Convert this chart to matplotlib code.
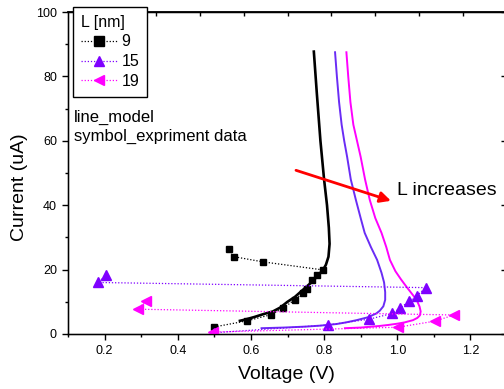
import numpy as np
import matplotlib
matplotlib.use('Agg')
import matplotlib.pyplot as plt
from matplotlib.lines import Line2D

plt.rcParams['font.family'] = ['Liberation Sans', 'DejaVu Sans']

# experiment data (symbols, joined by dotted lines)
v9 = [0.50, 0.59, 0.655, 0.687, 0.72, 0.742, 0.753, 0.766, 0.78, 0.797, 0.633, 0.554, 0.54]
i9 = [2.2, 4.1, 6.0, 8.0, 10.6, 12.7, 14.0, 16.8, 18.3, 19.9, 22.4, 24.0, 26.4]
v15 = [0.50, 0.811, 0.923, 0.987, 1.007, 1.033, 1.053, 1.078, 0.183, 0.203]
i15 = [0.4, 2.8, 4.6, 6.4, 8.0, 10.2, 11.8, 14.4, 16.0, 18.3]
v19 = [0.497, 1.002, 1.103, 1.155, 0.292, 0.312]
i19 = [0.6, 2.1, 4.0, 5.9, 7.7, 10.3]

# model curves (lines)
mv9 = [0.772, 0.780, 0.790, 0.800, 0.808, 0.813, 0.815, 0.812, 0.805, 0.797, 0.782,
       0.765, 0.745, 0.72, 0.70, 0.68, 0.66, 0.635, 0.61, 0.585, 0.57]
mi9 = [87.7, 75, 60, 48, 40, 33, 28, 24, 21.5, 19.9, 18.0,
       16.0, 14.0, 11.5, 10.0, 8.2, 7.0, 6.2, 5.3, 4.5, 4.1]
mv15 = [0.830, 0.835, 0.841, 0.848, 0.855, 0.863, 0.873, 0.887, 0.900, 0.911, 0.928,
        0.945, 0.957, 0.964, 0.967, 0.967, 0.962, 0.952, 0.943, 0.920, 0.889, 0.860,
        0.834, 0.790, 0.750, 0.690, 0.629]
mi15 = [87.5, 80, 72, 65, 60, 55, 48, 41.6, 36, 31.4, 27,
        23, 19, 16, 13, 10.6, 8.6, 7.2, 6.4, 5.2, 4.3, 3.6,
        3.1, 2.6, 2.3, 2.0, 1.8]
mv19 = [0.861, 0.866, 0.872, 0.880, 0.890, 0.900, 0.912, 0.925, 0.940, 0.957, 0.970,
        0.980, 0.995, 1.010, 1.025, 1.040, 1.053, 1.061, 1.064, 1.062, 1.055, 1.043,
        1.020, 1.000, 0.975, 0.952, 0.900, 0.857]
mi19 = [87.5, 80, 72, 65, 60, 55, 48, 41.6, 36, 31.4, 27,
        23, 19.5, 17, 14.7, 12.5, 10.6, 8.5, 7.0, 5.8, 5.0, 4.3,
        3.6, 3.2, 2.8, 2.5, 2.0, 1.8]

labels = ['9', '15', '19']
colors = ['black', '#7F00FF', '#FF00FF']
line_colors = ['black', '#6A2CF5', '#FF00FF']
markers = ['s', '^', '<']

fig = plt.figure(figsize=(5.04, 3.89), dpi=100)
ax = fig.add_axes([68/504, 55/389, 439/504, 322/389])

dots = (0, (1, 1.5))
ax.plot(mv9, mi9, color=line_colors[0], lw=1.9, zorder=2)
ax.plot(mv15, mi15, color=line_colors[1], lw=1.4, zorder=2)
ax.plot(mv19, mi19, color=line_colors[2], lw=1.4, zorder=2)

ax.plot(v9, i9, ls=dots, lw=0.9, color=colors[0], marker=markers[0], ms=5, zorder=3)
ax.plot(v15, i15, ls=dots, lw=0.9, color=colors[1], marker=markers[1], ms=6.5, zorder=3)
ax.plot(v19, i19, ls=dots, lw=0.9, color=colors[2], marker=markers[2], ms=6.5, zorder=4)

ax.set_xlim(0.1, 1.3)
ax.set_ylim(0, 100)
ax.set_xticks([0.2, 0.4, 0.6, 0.8, 1.0, 1.2])
ax.set_xticklabels(['0.2', '0.4', '0.6', '0.8', '1.0', '1.2'])
ax.set_xticks(np.arange(0.1, 1.31, 0.2), minor=True)
ax.set_yticks([0, 20, 40, 60, 80, 100])
ax.set_yticks([10, 30, 50, 70, 90], minor=True)
ax.tick_params(which='major', direction='out', length=4, width=1, labelsize=9, pad=4)
ax.tick_params(which='minor', direction='out', length=2.5, width=1)
for s in ax.spines.values():
    s.set_linewidth(1.0)

# top / right ticks (inward, Origin style)
axt = ax.twiny()
axt.set_xlim(0.1, 1.3)
axt.set_xticks([0.1 + 0.12*k for k in range(1, 10)])
axt.tick_params(axis='x', direction='in', length=3, width=1, labeltop=False)
axr = ax.twinx()
axr.set_ylim(0, 100)
axr.set_yticks([0, 20, 40, 60, 80, 100])
axr.set_yticks([10, 30, 50, 70, 90], minor=True)
axr.tick_params(axis='y', which='major', direction='in', length=4, width=1, labelright=False)
axr.tick_params(axis='y', which='minor', direction='in', length=2.5, width=1)
axr.spines['top'].set_linewidth(1.3)

ax.set_xlabel('Voltage (V)', fontsize=14)
ax.set_ylabel('Current (uA)', fontsize=14)
ax.xaxis.set_label_coords(0.498, -0.1)
ax.yaxis.set_label_coords(-0.09, 0.455)

ax.text(0.0137, 0.643, 'line_model\nsymbol_expriment data', transform=ax.transAxes,
        fontsize=12, ha='left', va='center', linespacing=1.25)

ax.annotate('', xy=(0.99, 41.1), xytext=(0.716, 51.1),
            arrowprops=dict(arrowstyle='-|>', color='#FF0000', lw=2, mutation_scale=16),
            zorder=5)
ax.text(0.998, 44.7, 'L increases', fontsize=14, ha='left', va='center')

handles = [Line2D([], [], ls=dots, lw=0.9, color=c, marker=m, ms=6.5)
           for c, m in zip(colors, markers)]
leg = fig.legend(handles, labels, title='L [nm]', loc='upper left',
                 bbox_to_anchor=(0.144, 0.983), bbox_transform=fig.transFigure,
                 fontsize=11.5, title_fontsize=11.5, frameon=True, fancybox=False,
                 handlelength=2.3, handletextpad=0.25, labelspacing=0.3,
                 borderpad=0.5, borderaxespad=0, alignment='left')
leg.get_frame().set_edgecolor('black')
leg.get_frame().set_linewidth(1.0)
leg.get_frame().set_alpha(1)

fig.savefig('out.png', dpi=100)
